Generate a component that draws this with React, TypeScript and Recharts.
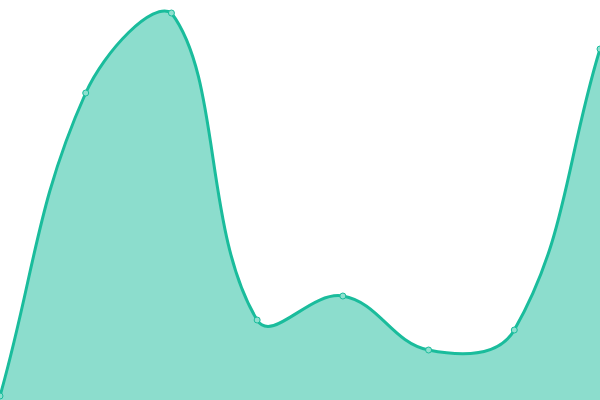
import React from 'react';
import { AreaChart, Area, XAxis, YAxis } from 'recharts';

const WIDTH = 600;
const HEIGHT = 400;

const labels = ['A', 'B', 'C', 'D', 'E', 'F', 'G', 'H'];
const values = [4, 307, 387, 80, 104, 50, 70, 351];

const data = labels.map((name, i) => ({ name, value: values[i] }));

const clamp = (v: number, lo: number, hi: number) => Math.max(lo, Math.min(hi, v));

// distance-weighted spline (tension 0.4), control points capped to the plot area
const spline = (t: number) => (context: any) => {
  let xs: number[] = [];
  let ys: number[] = [];
  let line = NaN;
  return {
    areaStart() { line = 0; },
    areaEnd() { line = NaN; },
    lineStart() { xs = []; ys = []; },
    lineEnd() {
      const n = xs.length;
      if (n) {
        const inX: number[] = [], inY: number[] = [], outX: number[] = [], outY: number[] = [];
        for (let i = 0; i < n; i++) {
          const pi = i > 0 ? i - 1 : i;
          const ni = i < n - 1 ? i + 1 : i;
          const d01 = Math.hypot(xs[i] - xs[pi], ys[i] - ys[pi]);
          const d12 = Math.hypot(xs[ni] - xs[i], ys[ni] - ys[i]);
          let s01 = d01 / (d01 + d12);
          let s12 = d12 / (d01 + d12);
          if (isNaN(s01)) s01 = 0;
          if (isNaN(s12)) s12 = 0;
          const fa = t * s01;
          const fb = t * s12;
          const dx = xs[ni] - xs[pi];
          const dy = ys[ni] - ys[pi];
          inX.push(clamp(xs[i] - fa * dx, 0, WIDTH));
          inY.push(clamp(ys[i] - fa * dy, 0, HEIGHT));
          outX.push(clamp(xs[i] + fb * dx, 0, WIDTH));
          outY.push(clamp(ys[i] + fb * dy, 0, HEIGHT));
        }
        if (line) context.lineTo(xs[0], ys[0]);
        else context.moveTo(xs[0], ys[0]);
        for (let i = 0; i < n - 1; i++) {
          context.bezierCurveTo(outX[i], outY[i], inX[i + 1], inY[i + 1], xs[i + 1], ys[i + 1]);
        }
      }
      if (line || (line !== 0 && n === 1)) context.closePath();
      line = 1 - line;
    },
    point(x: number, y: number) { xs.push(+x); ys.push(+y); },
  };
};

const curve = spline(0.4);

export default function App() {
  return (
    <div style={{ position: 'absolute', left: 0, top: 0 }}>
      <AreaChart width={WIDTH} height={HEIGHT} data={data} margin={{ top: 0, right: 0, bottom: 0, left: 0 }}>
        <XAxis dataKey="name" hide />
        <YAxis hide domain={[0, 400]} />
        <Area
          type={curve as any}
          dataKey="value"
          stroke="#1abc9c"
          strokeWidth={3}
          fill="#1abc9c"
          fillOpacity={0.5}
          dot={{ r: 3, fill: '#8ee0cf', stroke: '#1abc9c', strokeWidth: 1, fillOpacity: 1 }}
          activeDot={false}
          isAnimationActive={false}
        />
      </AreaChart>
    </div>
  );
}
